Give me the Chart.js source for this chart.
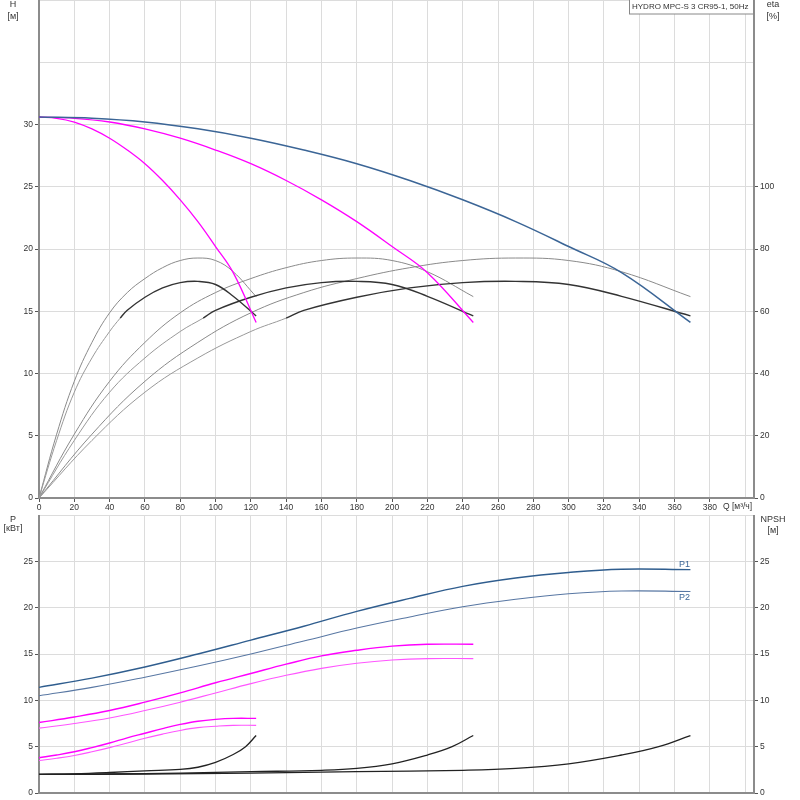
<!DOCTYPE html>
<html>
<head>
<meta charset="utf-8">
<script src="https://cdn.jsdelivr.net/npm/chart.js@4.4.1/dist/chart.umd.min.js"></script>
<style>
  html, body { margin: 0; padding: 0; background: #fff; width: 800px; height: 800px; overflow: hidden; }
  #topChart { position: absolute; left: 0; top: 0; }
  #botChart { position: absolute; left: 0; top: 515px; }
</style>
</head>
<body>
<canvas id="topChart" width="800" height="515"></canvas>
<canvas id="botChart" width="800" height="285"></canvas>
<script>
// ══════════════════════════════
//  DATA
// ══════════════════════════════
const qTicks = [0, 20, 40, 60, 80, 100, 120, 140, 160, 180, 200, 220, 240, 260, 280, 300, 320, 340, 360, 380, 400];
const hTicks = [0, 5, 10, 15, 20, 25, 30, 35, 40];
const etaTicks = [0, 20, 40, 60, 80, 100, 120, 140, 160];
const pTicks = [0, 5, 10, 15, 20, 25, 30];

// H [m] - 1, 2 and 3 pumps
const qH1 = [0, 10, 20, 30, 40, 50, 60, 70, 80, 90, 100, 110, 123];
const h1 = [30.6, 30.5, 30.2, 29.65, 28.9, 27.95, 26.85, 25.5, 23.95, 22.2, 20.2, 18.1, 14.1];
const qH2 = [0, 20, 40, 60, 80, 100, 120, 140, 160, 180, 200, 220, 246];
const h2 = [30.6, 30.5, 30.2, 29.65, 28.9, 27.95, 26.85, 25.5, 23.95, 22.2, 20.2, 18.1, 14.1];
const qH3 = [0, 30, 60, 90, 120, 150, 180, 210, 240, 270, 300, 330, 369];
const h3 = [30.6, 30.5, 30.2, 29.65, 28.9, 27.95, 26.85, 25.5, 23.95, 22.2, 20.2, 18.1, 14.1];

// eta [%] - pump efficiency
const qE1 = [0, 10, 20, 30, 40, 50, 60, 70, 80, 90, 100, 110, 123];
const eta1 = [0, 20.5, 37.5, 50, 59.5, 66, 70.5, 74, 76.3, 77.1, 76.3, 72.7, 64.7];
const qE2 = [0, 20, 40, 60, 80, 100, 120, 140, 160, 180, 200, 220, 246];
const eta2 = [0, 20.5, 37.5, 50, 59.5, 66, 70.5, 74, 76.3, 77.1, 76.3, 72.7, 64.7];
const qE3 = [0, 30, 60, 90, 120, 150, 180, 210, 240, 270, 300, 330, 369];
const eta3 = [0, 20.5, 37.5, 50, 59.5, 66, 70.5, 74, 76.3, 77.1, 76.3, 72.7, 64.7];

// eta total [%] (dark part from start value)
const qT1 = [0, 10, 20, 30, 40, 46, 50, 60, 70, 80, 90, 100, 110, 123];
const tot1 = [0, 18.5, 34, 45, 53.5, 57.8, 60.3, 64.5, 67.5, 69.2, 69.6, 68.6, 64.8, 58.5];
const qT2 = [0, 20, 40, 60, 80, 93, 100, 120, 140, 160, 180, 200, 220, 246];
const tot2 = [0, 18.5, 34, 45, 53.5, 57.8, 60.3, 64.5, 67.5, 69.2, 69.6, 68.6, 64.8, 58.5];
const qT3 = [0, 30, 60, 90, 120, 140, 150, 180, 210, 240, 270, 300, 330, 369];
const tot3 = [0, 18.5, 34, 45, 53.5, 57.8, 60.3, 64.5, 67.5, 69.2, 69.6, 68.6, 64.8, 58.5];
const totStart = [46, 93, 140];

// P1 / P2 [kW]
const qP1 = [0, 10, 20, 30, 40, 50, 60, 70, 80, 90, 100, 110, 123];
const p1a = [3.8, 4.1, 4.45, 4.9, 5.4, 5.95, 6.45, 6.95, 7.4, 7.75, 7.95, 8.05, 8.05];
const p2a = [3.5, 3.75, 4.05, 4.45, 4.9, 5.4, 5.9, 6.35, 6.75, 7.05, 7.2, 7.3, 7.3];
const qP2 = [0, 20, 40, 60, 80, 100, 120, 140, 160, 180, 200, 220, 246];
const p1b = [7.6, 8.2, 8.9, 9.8, 10.8, 11.9, 12.9, 13.9, 14.8, 15.4, 15.85, 16.05, 16.05];
const p2b = [7.0, 7.5, 8.1, 8.9, 9.8, 10.8, 11.8, 12.7, 13.45, 14.0, 14.35, 14.5, 14.5];
const qP3 = [0, 30, 60, 90, 120, 150, 180, 210, 240, 270, 300, 330, 369];
const p1c = [11.4, 12.4, 13.6, 15.0, 16.5, 18.0, 19.6, 21.0, 22.3, 23.2, 23.8, 24.15, 24.1];
const p2c = [10.5, 11.4, 12.5, 13.7, 15.0, 16.4, 17.8, 19.0, 20.1, 20.9, 21.5, 21.8, 21.75];

// NPSH [m]
const qN1 = [0, 20, 40, 60, 80, 90, 100, 110, 117, 123];
const npsh1 = [2.0, 2.07, 2.21, 2.39, 2.55, 2.78, 3.3, 4.15, 5.0, 6.2];
const qN2 = [0, 40, 80, 120, 160, 180, 200, 220, 234, 246];
const npsh2 = [2.0, 2.05, 2.15, 2.3, 2.45, 2.65, 3.15, 4.1, 5.0, 6.2];
const qN3 = [0, 60, 120, 180, 240, 270, 300, 330, 351, 369];
const npsh3 = [2.0, 2.05, 2.15, 2.3, 2.45, 2.65, 3.15, 4.1, 5.0, 6.2];


// ══════════════════════════════
//  HELPERS
// ══════════════════════════════
const FONT = { family: '"Liberation Sans", Arial, sans-serif', size: 8.5 };
const TXT = '#333';
const GRID = '#dcdcdc';
const AXIS = '#8c8c8c';
const MAGENTA = '#ff00ff';
const BLUE = '#3b6596';

const pts = (qs, vs) => qs.map((q, i) => ({ x: q, y: vs[i] }));

function line(data, color, width, axis, extra) {
  return Object.assign({
    data: data,
    yAxisID: axis,
    borderColor: color,
    borderWidth: width,
    pointRadius: 0,
    fill: false,
    tension: 0.4,
  }, extra || {});
}

function totalLine(qs, vs, start) {
  return line(pts(qs, vs), '#999', 1, 'eta', {
    segment: { borderColor: c => c.p0.parsed.x >= start ? '#333' : '#999',
               borderWidth: c => c.p0.parsed.x >= start ? 1.4 : 1 },
  });
}

const tickMark = limit => (c => (c.tick && c.tick.value <= limit) ? '#555' : 'rgba(0,0,0,0)');

function yAxis(pos, max, ticks, limit, width, onArea) {
  return {
    type: 'linear',
    position: pos,
    min: 0,
    max: max,
    afterBuildTicks: a => { a.ticks = ticks.map(v => ({ value: v })); },
    afterFit: a => { a.width = width; a.paddingTop = 0; a.paddingBottom = 0; },
    ticks: { callback: v => v <= limit ? v : '', font: FONT, color: TXT, padding: 2 },
    grid: { color: GRID, lineWidth: 1, drawOnChartArea: onArea, tickColor: tickMark(limit), tickLength: 4 },
    border: { color: AXIS, width: 2 },
  };
}

function xAxis(height, showTicks) {
  return {
    type: 'linear',
    min: 0,
    max: 405,
    afterBuildTicks: a => { a.ticks = qTicks.map(v => ({ value: v })); },
    afterFit: a => { a.height = height; a.paddingLeft = 0; a.paddingRight = 0; },
    ticks: { display: showTicks, callback: v => v <= 380 ? v : '', font: FONT, color: TXT, padding: 1, maxRotation: 0, autoSkip: false },
    grid: { color: GRID, lineWidth: 1, drawTicks: showTicks, tickColor: tickMark(380), tickLength: 4 },
    border: { color: AXIS, width: 2 },
  };
}

const baseOptions = {
  responsive: false,
  animation: false,
  devicePixelRatio: 1,
  layout: { padding: 0 },
  plugins: { legend: { display: false }, tooltip: { enabled: false } },
};


// ══════════════════════════════
//  TOP CHART (H + eta)
// ══════════════════════════════
const topText = {
  id: 'topText',
  afterDraw(chart) {
    const ctx = chart.ctx;
    ctx.save();
    ctx.font = '9px "Liberation Sans", Arial, sans-serif';
    ctx.fillStyle = TXT;
    ctx.textAlign = 'center';
    ctx.textBaseline = 'middle';
    ctx.fillText('H', 13, 5);
    ctx.fillText('[м]', 13, 17);
    ctx.fillText('eta', 773, 5);
    ctx.fillText('[%]', 773, 17);
    ctx.textAlign = 'left';
    ctx.font = '8.5px "Liberation Sans", Arial, sans-serif';
    ctx.fillText('Q [м³/ч]', 723, 507);
    // title box
    ctx.fillStyle = '#fff';
    ctx.fillRect(629, 0, 125, 14);
    ctx.strokeStyle = '#888';
    ctx.lineWidth = 1;
    ctx.strokeRect(629.5, -1, 124, 15);
    ctx.fillStyle = TXT;
    ctx.font = '8px "Liberation Sans", Arial, sans-serif';
    ctx.fillText('HYDRO MPC-S 3 CR95-1, 50Hz', 632, 7);
    ctx.restore();
  }
};

new Chart(document.getElementById('topChart'), {
  type: 'line',
  plugins: [topText],
  data: {
    datasets: [
      line(pts(qH3, h3), BLUE, 1.5, 'h'),
      line(pts(qH2, h2), MAGENTA, 1.3, 'h'),
      line(pts(qH1, h1), MAGENTA, 1.3, 'h'),
      totalLine(qT1, tot1, totStart[0]),
      totalLine(qT2, tot2, totStart[1]),
      totalLine(qT3, tot3, totStart[2]),
      line(pts(qE1, eta1), '#8a8a8a', 1, 'eta'),
      line(pts(qE2, eta2), '#8a8a8a', 1, 'eta'),
      line(pts(qE3, eta3), '#8a8a8a', 1, 'eta'),
    ],
  },
  options: Object.assign({}, baseOptions, {
    scales: {
      x: xAxis(17, true),
      h: yAxis('left', 40, hTicks, 30, 39, true),
      eta: yAxis('right', 160, etaTicks, 100, 46, false),
    },
  }),
});


// ══════════════════════════════
//  BOTTOM CHART (P + NPSH)
// ══════════════════════════════
const botText = {
  id: 'botText',
  afterDraw(chart) {
    const ctx = chart.ctx;
    const x = chart.scales.x;
    const p = chart.scales.p;
    ctx.save();
    ctx.font = '9px "Liberation Sans", Arial, sans-serif';
    ctx.fillStyle = TXT;
    ctx.textAlign = 'center';
    ctx.textBaseline = 'middle';
    ctx.fillText('P', 13, 5);
    ctx.fillText('[кВт]', 13, 14);
    ctx.fillText('NPSH', 773, 5);
    ctx.fillText('[м]', 773, 16);
    ctx.fillStyle = BLUE;
    const qEnd = qP3[qP3.length - 1];
    ctx.fillText('P1', x.getPixelForValue(qEnd) - 6, p.getPixelForValue(p1c[p1c.length - 1]) - 5);
    ctx.fillText('P2', x.getPixelForValue(qEnd) - 6, p.getPixelForValue(p2c[p2c.length - 1]) + 6);
    ctx.restore();
  }
};

new Chart(document.getElementById('botChart'), {
  type: 'line',
  plugins: [botText],
  data: {
    datasets: [
      line(pts(qP3, p1c), '#2f5d8e', 1.4, 'p'),
      line(pts(qP3, p2c), '#5877a3', 1.1, 'p'),
      line(pts(qP2, p1b), MAGENTA, 1.4, 'p'),
      line(pts(qP2, p2b), '#ff55ff', 1.1, 'p'),
      line(pts(qP1, p1a), MAGENTA, 1.4, 'p'),
      line(pts(qP1, p2a), '#ff55ff', 1.1, 'p'),
      line(pts(qN1, npsh1), '#222', 1.3, 'npsh'),
      line(pts(qN2, npsh2), '#222', 1.3, 'npsh'),
      line(pts(qN3, npsh3), '#222', 1.3, 'npsh'),
    ],
  },
  options: Object.assign({}, baseOptions, {
    scales: {
      x: xAxis(7, false),
      p: yAxis('left', 30, pTicks, 25, 39, true),
      npsh: yAxis('right', 30, pTicks, 25, 46, false),
    },
  }),
});
</script>
</body>
</html>
